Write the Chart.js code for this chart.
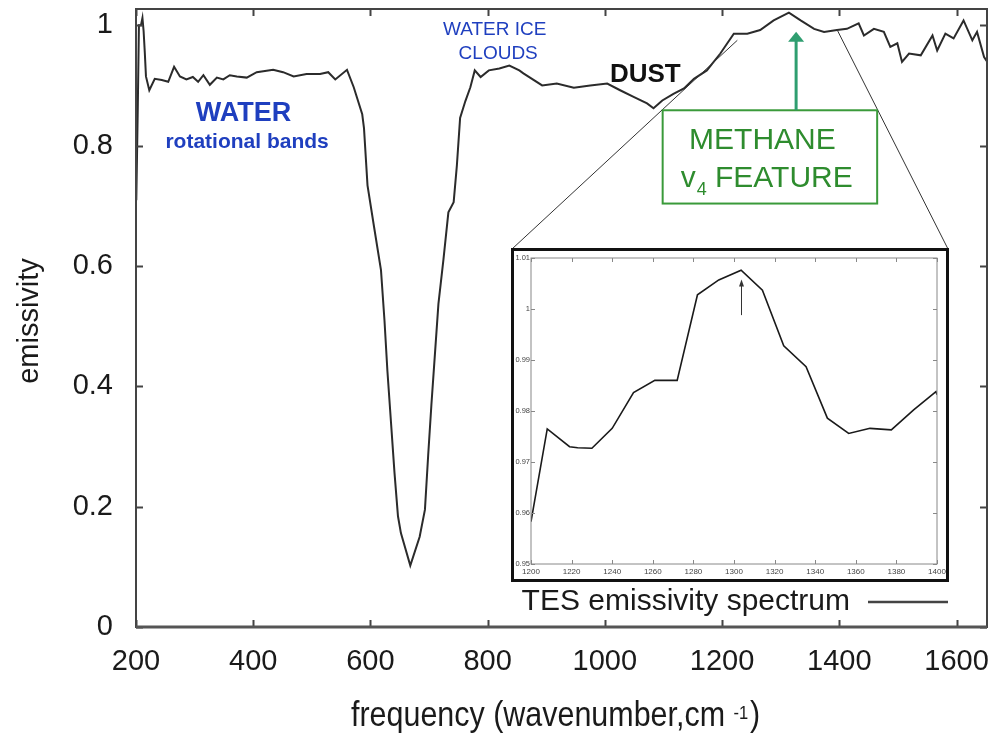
<!DOCTYPE html>
<html>
<head>
<meta charset="utf-8">
<title>TES emissivity spectrum</title>
<script src="https://cdn.jsdelivr.net/npm/chart.js@4.4.0/dist/chart.umd.min.js"></script>
<style>
    html, body { margin: 0; padding: 0; background: #fff; }
    #wrap { position: relative; width: 991px; height: 733px; }
    #mainChart { position: absolute; left: 0; top: 0; }
    #inset { position: absolute; left: 511px; top: 248px; width: 432px; height: 328px; border: 3px solid #111; background: #fff; }
</style>
</head>
<body>
<div id="wrap">
    <canvas id="mainChart" width="991" height="733" style="width:991px;height:733px"></canvas>
    <div id="inset"><canvas id="insetChart" width="432" height="328" style="width:432px;height:328px"></canvas></div>
</div>
<script>
// main spectrum
const wavenumber = [
    200.5, 203, 205, 208.5, 211, 213, 215, 217, 222.7, 232, 244, 255, 265, 275, 286, 297, 306, 315, 326, 338,
    349, 360, 372, 389, 406, 434, 451, 469, 491, 514, 528, 540, 560, 571.5, 586, 589, 595, 606, 618, 624,
    629, 635, 641, 647, 652, 668, 684, 693, 698.5, 704, 710, 716, 724.5, 733, 742, 747.5, 753, 762, 770.5, 778,
    788, 802, 820, 837, 854, 861, 893, 918, 947, 975, 1004, 1026, 1049, 1072, 1083, 1098, 1117, 1135, 1152, 1174,
    1197, 1220, 1243, 1265, 1288, 1314, 1334, 1357, 1374, 1396, 1413, 1433, 1442, 1459, 1476, 1487, 1499, 1507, 1519, 1539,
    1559, 1567, 1581, 1595, 1612, 1627, 1635, 1647, 1652
];
const emissivity = [
    0.709, 0.86, 1.0, 1.0, 1.012, 0.99, 0.955, 0.915, 0.892, 0.911, 0.909, 0.906, 0.931, 0.915, 0.910, 0.914, 0.906, 0.917, 0.901, 0.913,
    0.910, 0.917, 0.915, 0.913, 0.922, 0.926, 0.922, 0.915, 0.919, 0.919, 0.922, 0.910, 0.926, 0.897, 0.852, 0.829, 0.734, 0.666, 0.593, 0.509,
    0.425, 0.341, 0.257, 0.184, 0.156, 0.102, 0.150, 0.195, 0.285, 0.369, 0.453, 0.537, 0.610, 0.689, 0.706, 0.767, 0.846, 0.874, 0.897, 0.925,
    0.914, 0.925, 0.928, 0.933, 0.925, 0.920, 0.900, 0.903, 0.896, 0.900, 0.903, 0.892, 0.881, 0.870, 0.862, 0.875, 0.886, 0.895, 0.911, 0.925,
    0.953, 0.986, 0.986, 0.992, 1.008, 1.021, 1.008, 0.994, 0.989, 0.992, 0.994, 1.003, 0.983, 0.994, 0.989, 0.964, 0.970, 0.939, 0.953, 0.950,
    0.983, 0.958, 0.986, 0.978, 1.008, 0.975, 0.989, 0.947, 0.940
];
const xTicks = [200, 400, 600, 800, 1000, 1200, 1400, 1600];
const yTicks = [0, 0.2, 0.4, 0.6, 0.8, 1];
const yTickLabels = ['0', '0.2', '0.4', '0.6', '0.8', '1'];

// inset (zoom on the methane feature)
const insetWn = [1200, 1208, 1219, 1223, 1230, 1240, 1250.5, 1261, 1272, 1282, 1292.5, 1303.5, 1314, 1324.5, 1335.5, 1346, 1356.5, 1367, 1377.5, 1388.5, 1399.5, 1400];
const insetEm = [0.9583, 0.9765, 0.9730, 0.9728, 0.9727, 0.9766, 0.9836, 0.9860, 0.9860, 1.0028, 1.0057, 1.0076, 1.0037, 0.9928, 0.9887, 0.9786, 0.9756, 0.9766, 0.9763, 0.9802, 0.9838, 0.9832];
const insetXTicks = [1200, 1220, 1240, 1260, 1280, 1300, 1320, 1340, 1360, 1380, 1400];
const insetYTicks = [0.95, 0.96, 0.97, 0.98, 0.99, 1, 1.01];
const insetYTickLabels = ['0.95', '0.96', '0.97', '0.98', '0.99', '1', '1.01'];

const legendLabel = 'TES emissivity spectrum';

const FONT = "'Liberation Sans', Arial, sans-serif";
Chart.defaults.font.family = FONT;

/**
 * Fix the size of an axis box and drop the edge padding Chart.js adds for labels
 */
function fixBox(size) {
    return function (s) {
        if (s.isHorizontal()) {
            s.height = size;
        } else {
            s.width = size;
        }
        s.paddingLeft = 0;
        s.paddingRight = 0;
        s.paddingTop = 0;
        s.paddingBottom = 0;
    };
}

/**
 * Draw a box with inward tick marks, gnuplot style
 */
function drawFrame(chart, xt, yt, len, color, width) {
    const { ctx, chartArea: a, scales: { x, y } } = chart;
    ctx.save();
    ctx.strokeStyle = color;
    ctx.lineWidth = width;
    ctx.strokeRect(a.left, a.top, a.right - a.left, a.bottom - a.top);
    ctx.beginPath();
    xt.forEach(v => {
        const px = Math.round(x.getPixelForValue(v)) + 0.5;
        ctx.moveTo(px, a.bottom); ctx.lineTo(px, a.bottom - len);
        ctx.moveTo(px, a.top); ctx.lineTo(px, a.top + len);
    });
    yt.forEach(v => {
        const py = Math.round(y.getPixelForValue(v)) + 0.5;
        ctx.moveTo(a.left, py); ctx.lineTo(a.left + len, py);
        ctx.moveTo(a.right, py); ctx.lineTo(a.right - len, py);
    });
    ctx.stroke();
    ctx.restore();
}

function arrowUp(ctx, px, py0, py1, color, lw, headW, headH) {
    ctx.save();
    ctx.strokeStyle = color;
    ctx.fillStyle = color;
    ctx.lineWidth = lw;
    ctx.beginPath();
    ctx.moveTo(px, py0);
    ctx.lineTo(px, py1 + headH - 1);
    ctx.stroke();
    ctx.beginPath();
    ctx.moveTo(px, py1);
    ctx.lineTo(px - headW / 2, py1 + headH);
    ctx.lineTo(px + headW / 2, py1 + headH);
    ctx.closePath();
    ctx.fill();
    ctx.restore();
}

const mainDecor = {
    id: 'mainDecor',
    afterDatasetsDraw(chart) {
        const { ctx, chartArea: a, scales: { x, y } } = chart;
        const X = v => x.getPixelForValue(v);
        const Y = v => y.getPixelForValue(v);

        drawFrame(chart, xTicks, yTicks, 7, '#444', 2);
        // heavier bottom axis
        ctx.save();
        ctx.strokeStyle = '#555';
        ctx.lineWidth = 3;
        ctx.beginPath();
        ctx.moveTo(a.left, a.bottom);
        ctx.lineTo(a.right, a.bottom);
        ctx.stroke();
        ctx.restore();

        // zoom lines from the spectrum to the inset corners
        const box = document.getElementById('inset');
        const bx0 = box.offsetLeft + 1, bx1 = box.offsetLeft + box.offsetWidth - 1, by = box.offsetTop + 1;
        ctx.save();
        ctx.strokeStyle = '#333';
        ctx.lineWidth = 1;
        ctx.beginPath();
        ctx.moveTo(bx0, by); ctx.lineTo(X(1226), Y(0.975));
        ctx.moveTo(bx1, by); ctx.lineTo(X(1396), Y(0.993));
        ctx.stroke();
        ctx.restore();

        ctx.save();
        ctx.textAlign = 'center';
        ctx.textBaseline = 'middle';
        // water labels
        ctx.fillStyle = '#1f3fbf';
        ctx.font = 'bold 27px ' + FONT;
        ctx.fillText('WATER', X(383.5), Y(0.854));
        ctx.font = 'bold 21px ' + FONT;
        ctx.fillText('rotational bands', X(389.5), Y(0.806));
        ctx.font = '19px ' + FONT;
        ctx.fillText('WATER ICE', X(812), Y(0.992));
        ctx.fillText('CLOUDS', X(818), Y(0.953));
        // dust
        ctx.fillStyle = '#111';
        ctx.font = 'bold 26px ' + FONT;
        ctx.fillText('DUST', X(1069), Y(0.918));
        ctx.restore();

        // methane box + arrow
        const l = X(1098.6), r = X(1464.6), t = Y(0.8587), b = Y(0.7037);
        ctx.save();
        ctx.fillStyle = '#fff';
        ctx.fillRect(l, t, r - l, b - t);
        ctx.strokeStyle = '#3a9a3a';
        ctx.lineWidth = 2;
        ctx.strokeRect(l, t, r - l, b - t);
        ctx.fillStyle = '#2e8c2e';
        ctx.textBaseline = 'alphabetic';
        ctx.font = '30px ' + FONT;
        ctx.textAlign = 'center';
        ctx.fillText('METHANE', X(1268.8), t + 39);
        ctx.textAlign = 'left';
        let cx = l + 18;
        const base = t + 77;
        ctx.fillText('v', cx, base);
        cx += ctx.measureText('v').width;
        ctx.font = '18px ' + FONT;
        ctx.fillText('4', cx + 1, base + 8);
        cx += ctx.measureText('4').width + 1;
        ctx.font = '30px ' + FONT;
        ctx.fillText(' FEATURE', cx, base);
        ctx.restore();
        arrowUp(ctx, X(1326.3), t, Y(0.989), '#2f9e70', 3, 16, 10);

        // legend
        ctx.save();
        ctx.fillStyle = '#1a1a1a';
        ctx.font = '30px ' + FONT;
        ctx.textAlign = 'right';
        ctx.textBaseline = 'middle';
        ctx.fillText(legendLabel, a.right - 137, a.bottom - 25);
        ctx.strokeStyle = '#444';
        ctx.lineWidth = 2.5;
        ctx.beginPath();
        ctx.moveTo(a.right - 119, a.bottom - 25);
        ctx.lineTo(a.right - 39, a.bottom - 25);
        ctx.stroke();
        ctx.restore();

        // axis titles
        ctx.save();
        ctx.fillStyle = '#1a1a1a';
        ctx.translate(351, 726);
        ctx.scale(0.87, 1);
        ctx.textBaseline = 'alphabetic';
        ctx.textAlign = 'left';
        ctx.font = '35px ' + FONT;
        const main = 'frequency (wavenumber,cm ';
        ctx.fillText(main, 0, 0);
        let w = ctx.measureText(main).width;
        ctx.font = '19px ' + FONT;
        ctx.fillText('-1', w, -7);
        w += ctx.measureText('-1').width + 2;
        ctx.font = '35px ' + FONT;
        ctx.fillText(')', w, 0);
        ctx.restore();

        ctx.save();
        ctx.fillStyle = '#1a1a1a';
        ctx.translate(30, 321);
        ctx.rotate(-Math.PI / 2);
        ctx.textAlign = 'center';
        ctx.textBaseline = 'middle';
        ctx.font = '29px ' + FONT;
        ctx.fillText('emissivity', 0, 0);
        ctx.restore();
    }
};

const insetDecor = {
    id: 'insetDecor',
    afterDatasetsDraw(chart) {
        const { ctx, scales: { x, y } } = chart;
        drawFrame(chart, insetXTicks, insetYTicks, 4, '#888', 1);
        arrowUp(ctx, Math.round(x.getPixelForValue(1303.5)) + 0.5, y.getPixelForValue(0.9988), y.getPixelForValue(1.0058), '#333', 1, 5, 7);
    }
};

function initializeMainChart() {
    const canvas = document.getElementById('mainChart');
    new Chart(canvas.getContext('2d'), {
        type: 'line',
        data: {
            datasets: [{
                label: legendLabel,
                data: wavenumber.map((wn, i) => ({ x: wn, y: emissivity[i] })),
                borderColor: '#2b2b2b',
                borderWidth: 2,
                pointRadius: 0,
                tension: 0,
                fill: false
            }]
        },
        options: {
            responsive: false,
            animation: false,
            devicePixelRatio: 1,
            layout: { padding: { top: 9, right: 4, left: 0, bottom: 0 } },
            plugins: { legend: { display: false }, tooltip: { enabled: false } },
            scales: {
                x: {
                    type: 'linear',
                    min: 200,
                    max: 1652,
                    afterFit: fixBox(106),
                    afterBuildTicks: s => { s.ticks = xTicks.map(v => ({ value: v })); },
                    grid: { display: false, drawTicks: false },
                    border: { display: false },
                    ticks: {
                        padding: 18,
                        color: '#1a1a1a',
                        maxRotation: 0,
                        autoSkip: false,
                        font: { size: 29 },
                        callback: v => String(v)
                    }
                },
                y: {
                    type: 'linear',
                    min: 0,
                    max: 1.027,
                    afterFit: fixBox(136),
                    afterBuildTicks: s => { s.ticks = yTicks.map(v => ({ value: v })); },
                    grid: { display: false, drawTicks: false },
                    border: { display: false },
                    ticks: {
                        padding: 23,
                        color: '#1a1a1a',
                        font: { size: 29 },
                        callback: v => yTickLabels[yTicks.indexOf(v)]
                    }
                }
            }
        },
        plugins: [mainDecor]
    });
}

function initializeInsetChart() {
    const canvas = document.getElementById('insetChart');
    new Chart(canvas.getContext('2d'), {
        type: 'line',
        data: {
            datasets: [{
                data: insetWn.map((wn, i) => ({ x: wn, y: insetEm[i] })),
                borderColor: '#1a1a1a',
                borderWidth: 1.6,
                pointRadius: 0,
                tension: 0,
                fill: false
            }]
        },
        options: {
            responsive: false,
            animation: false,
            devicePixelRatio: 1,
            layout: { padding: { top: 7, right: 9, left: 0, bottom: 0 } },
            plugins: { legend: { display: false }, tooltip: { enabled: false } },
            scales: {
                x: {
                    type: 'linear',
                    min: 1200,
                    max: 1400,
                    afterFit: fixBox(15),
                    afterBuildTicks: s => { s.ticks = insetXTicks.map(v => ({ value: v })); },
                    grid: { display: false, drawTicks: false },
                    border: { display: false },
                    ticks: { padding: 3, color: '#444', maxRotation: 0, autoSkip: false, font: { size: 8 }, callback: v => String(v) }
                },
                y: {
                    type: 'linear',
                    min: 0.95,
                    max: 1.01,
                    afterFit: fixBox(17),
                    afterBuildTicks: s => { s.ticks = insetYTicks.map(v => ({ value: v })); },
                    grid: { display: false, drawTicks: false },
                    border: { display: false },
                    ticks: { padding: 1, color: '#444', font: { size: 7.5 }, callback: v => insetYTickLabels[insetYTicks.indexOf(v)] }
                }
            }
        },
        plugins: [insetDecor]
    });
}

document.addEventListener('DOMContentLoaded', function () {
    initializeMainChart();
    initializeInsetChart();
});
</script>
</body>
</html>
